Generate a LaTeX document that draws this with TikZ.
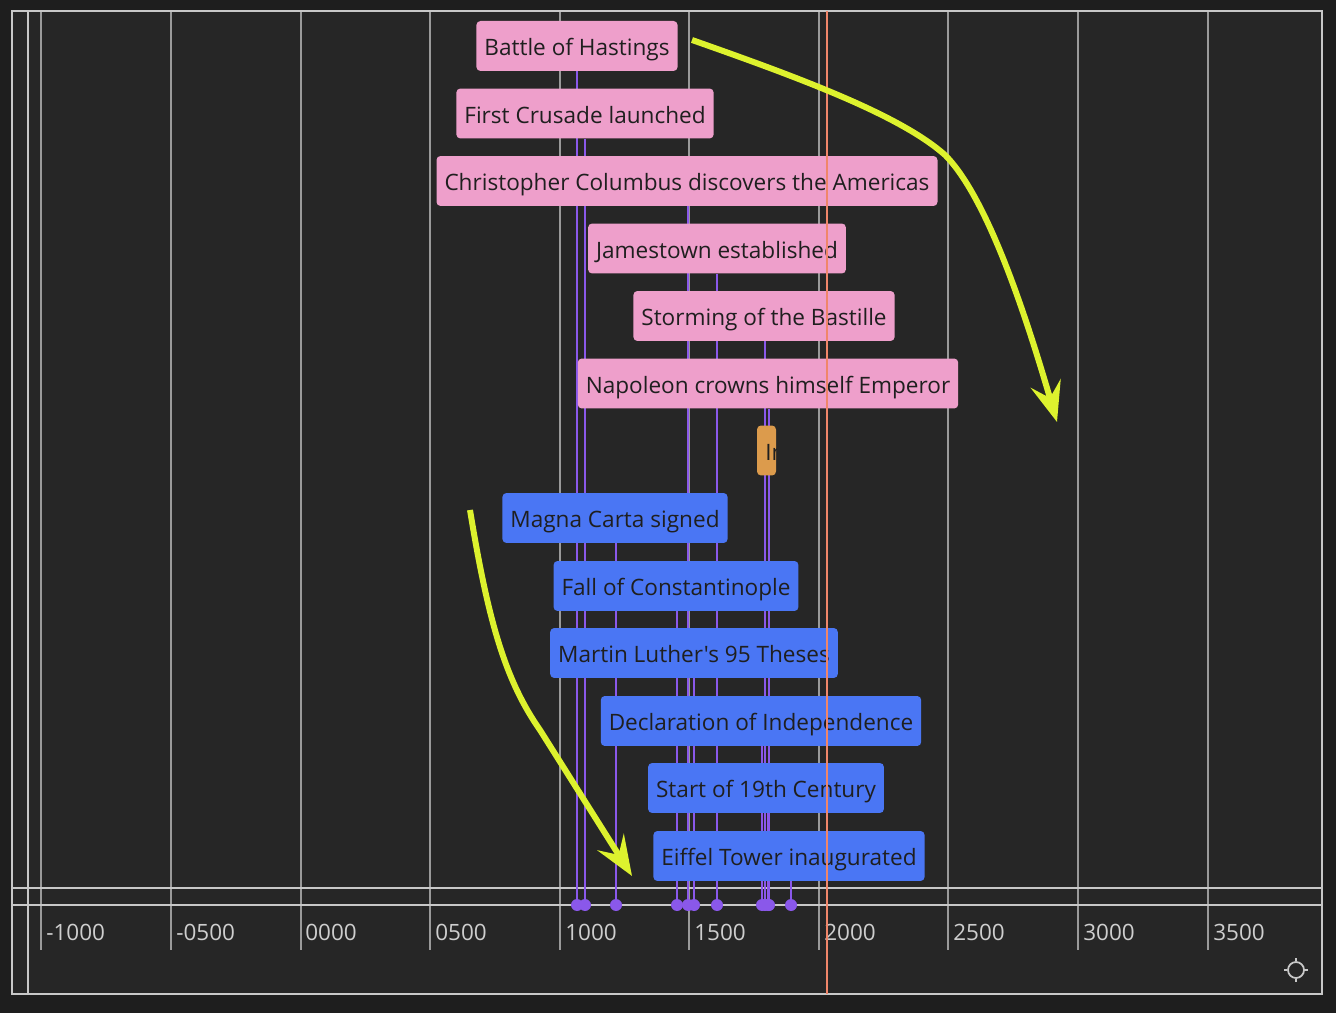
\documentclass[tikz,border=0pt]{standalone}
\usepackage{fontspec}
\setmainfont{Open Sans}[Ligatures=TeXOff]
\usetikzlibrary{arrows.meta, positioning}
\definecolor{canvasgray}{HTML}{1E1E1E}
\definecolor{panelgray}{HTML}{262626}
\definecolor{gridgray}{HTML}{9A9A9A}
\definecolor{bordergray}{HTML}{C8C8C8}
\definecolor{eventpink}{HTML}{EE9FCB}
\definecolor{eventblue}{HTML}{4A76F4}
\definecolor{rangeorange}{HTML}{DC9B4C}
\definecolor{stemviolet}{HTML}{8A58EA}
\definecolor{nowred}{HTML}{F0866A}
\definecolor{hintyellow}{HTML}{DDF22E}
\pgfdeclarelayer{canvas}
\pgfdeclarelayer{background}
\pgfdeclarelayer{front}
\pgfsetlayers{canvas,background,main,front}

\begin{document}
\begin{tikzpicture}[x=0.02cm, y=-0.02cm,
    event/.style={rectangle, fill=eventpink, rounded corners=2.3pt, minimum height=1cm, inner xsep=0.16cm, text height=11.3pt, text depth=0pt, text=black!88, font=\fontsize{12.85}{14}\selectfont},
    lowerevent/.style={event, fill=eventblue},
    spanbox/.style={event, fill=rangeorange, minimum width=0.38cm, inner xsep=0pt},
    axisdot/.style={circle, fill=stemviolet, inner sep=0pt, minimum size=0.24cm},
    stemline/.style={stemviolet, line width=0.7pt},
    gridline/.style={gridgray, line width=0.8pt},
    panelline/.style={bordergray, line width=0.9pt},
    ticklabel/.style={anchor=base west, text=bordergray!90, inner sep=0pt, font=\fontsize{12.8}{14}\selectfont},
    hintarrow/.style={hintyellow, line width=3.4pt, -{Stealth[length=0.8cm, width=0.62cm, inset=0.3cm]}}
]
    % canvas, panel, grid and axis
    \begin{pgfonlayer}{canvas}
        \fill[canvasgray] (0,0) rectangle (1336,1013);
        \fill[panelgray] (12,11) rectangle (1322,994);
        \foreach \x in {41,171,301,430,560,689,819,948,1078,1208}
            \draw[gridline] (\x,11) -- (\x,950);
        \draw[panelline] (12,11) rectangle (1322,994);
        \draw[panelline] (28,11) -- (28,994);
        \draw[panelline] (12,888) -- (1322,888);
        \draw[panelline] (12,905) -- (1322,905);
    \end{pgfonlayer}

    \node[ticklabel] (tm1000) at (46,940) {-1000};
    \node[ticklabel] (tm500) at (176,940) {-0500};
    \node[ticklabel] (t0) at (305,940) {0000};
    \node[ticklabel] (t500) at (435,940) {0500};
    \node[ticklabel] (t1000) at (565,940) {1000};
    \node[ticklabel] (t1500) at (694,940) {1500};
    \node[ticklabel] (t2000) at (824,940) {2000};
    \node[ticklabel] (t2500) at (953,940) {2500};
    \node[ticklabel] (t3000) at (1083,940) {3000};
    \node[ticklabel] (t3500) at (1213,940) {3500};

    % upper group
    \node[event] (hastings) at (577,46) {Battle of Hastings};
    \node[event] (crusade) at (585,113.5) {First Crusade launched};
    \node[event] (columbus) at (687,181) {Christopher Columbus discovers the Americas};
    \node[event] (jamestown) at (717,248.5) {Jamestown established};
    \node[event] (bastille) at (764,316) {Storming of the Bastille};
    \node[event] (napoleon) at (768,383.5) {Napoleon crowns himself Emperor};

    % range item
    \node[spanbox] (industry) at (766.5,450.5) {};
    \begin{scope}
        \clip (industry.south west) rectangle (industry.north east);
        \node[anchor=base west, inner sep=0pt, text=black!88, font=\fontsize{12.85}{14}\selectfont] (industrytext) at (765,460.5) {Industrial Revolution};
    \end{scope}

    % lower group
    \node[lowerevent] (magna) at (615,518) {Magna Carta signed};
    \node[lowerevent] (constantinople) at (676,586) {Fall of Constantinople};
    \node[lowerevent] (luther) at (694,653) {Martin Luther's 95 Theses};
    \node[lowerevent] (independence) at (761,721) {Declaration of Independence};
    \node[lowerevent] (century) at (766,788) {Start of 19th Century};
    \node[lowerevent] (eiffel) at (789,856) {Eiffel Tower inaugurated};

    % dots on the axis
    \node[axisdot] (dhastings) at (577,905) {};
    \node[axisdot] (dcrusade) at (585,905) {};
    \node[axisdot] (dmagna) at (616,905) {};
    \node[axisdot] (dconstantinople) at (677,905) {};
    \node[axisdot] (dcolumbus) at (688,905) {};
    \node[axisdot] (dluther) at (694,905) {};
    \node[axisdot] (djamestown) at (717,905) {};
    \node[axisdot] (dindependence) at (762,905) {};
    \node[axisdot] (dbastille) at (765,905) {};
    \node[axisdot] (dcentury) at (768,905) {};
    \node[axisdot] (dnapoleon) at (769,905) {};
    \node[axisdot] (deiffel) at (791,905) {};

    % stems behind the boxes
    \begin{pgfonlayer}{background}
        \foreach \e in {hastings,crusade,magna,constantinople,columbus,luther,jamestown,independence,bastille,century,napoleon,eiffel}
            \draw[stemline] (d\e.center |- \e.south) -- (d\e.center);
    \end{pgfonlayer}

    % current time
    \begin{pgfonlayer}{front}
        \coordinate (nowtop) at (827,11);
        \coordinate (nowbot) at (827,994);
        \draw[nowred, line width=1.5pt] (nowtop) -- (nowbot);

        % hint arrows
        \coordinate (hintAstart) at (692,40);
        \coordinate (hintAend) at (1057,422);
        \coordinate (hintBstart) at (470,510);
        \coordinate (hintBend) at (632,876);
        \draw[hintarrow] (hintAstart) .. controls (800,78) and (900,115) .. (945,155)
            .. controls (990,200) and (1030,330) .. (hintAend);
        \draw[hintarrow] (hintBstart) .. controls (488,620) and (505,680) .. (540,730) -- (hintBend);

        % locate icon
        \node[circle, draw=bordergray, line width=1pt, minimum size=0.32cm, inner sep=0pt] (locate) at (1296,970) {};
        \foreach \a in {0,90,180,270}
            \draw[bordergray, line width=1pt] (locate.\a) -- ++(\a:0.07cm);
    \end{pgfonlayer}
\end{tikzpicture}
\end{document}
